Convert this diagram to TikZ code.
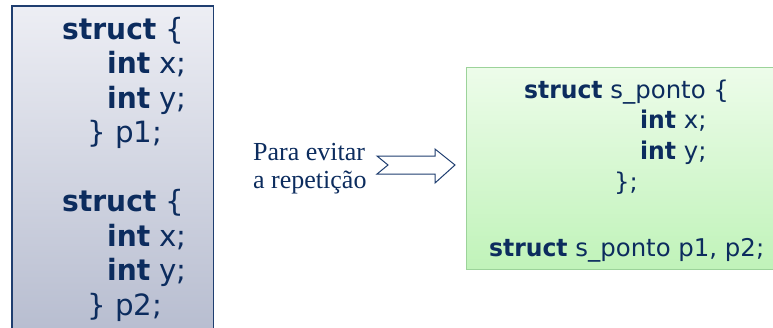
\documentclass[tikz,border=0pt]{standalone}
\usepackage{fontspec}
\setmainfont{DejaVu Sans}[BoldFeatures={FakeStretch=0.96}]
\newfontfamily\serifnote{Liberation Serif}
\definecolor{ink}{RGB}{12,44,94}
\definecolor{boxline}{RGB}{31,62,112}
\definecolor{lefttop}{RGB}{237,238,244}
\definecolor{leftbot}{RGB}{182,188,207}
\definecolor{greentop}{RGB}{237,252,234}
\definecolor{greenbot}{RGB}{192,243,185}
\definecolor{greenline}{RGB}{156,211,154}
\begin{document}
\begin{tikzpicture}[x=1bp,y=-1bp,
  lcode/.style={anchor=base west, inner sep=0pt, text=ink, font=\fontsize{29.3bp}{35bp}\selectfont},
  gcode/.style={anchor=base west, inner sep=0pt, text=ink, font=\fontsize{24.4bp}{30bp}\selectfont},
  note/.style={anchor=base west, inner sep=0pt, text=ink, font=\serifnote\fontsize{26bp}{28bp}\selectfont},
  blockarrow/.style={draw=boxline, fill=white, line width=1bp, line join=miter}]
\clip (0,0) rectangle (773,327);
% left box
\draw[line width=1.6bp, draw=boxline, top color=lefttop, bottom color=leftbot]
  (12,6) rectangle (213.5,340);
\node[lcode] (l1) at (62,39) {\textbf{struct} \{};
\node[lcode] (l2) at (107,73.5) {\textbf{int} x;};
\node[lcode] (l3) at (107,108) {\textbf{int} y;};
\node[lcode] (l4) at (87,142.5) {\} p1;};
\node[lcode] (l5) at (62,211.5) {\textbf{struct} \{};
\node[lcode] (l6) at (107,246) {\textbf{int} x;};
\node[lcode] (l7) at (107,280.5) {\textbf{int} y;};
\node[lcode] (l8) at (87,315) {\} p2;};
% right box
\draw[line width=1bp, draw=greenline, top color=greentop, bottom color=greenbot]
  (466.5,67.5) rectangle (790,269.5);
\node[gcode] (g1) at (524,98) {\textbf{struct} s\_ponto \{};
\node[gcode] (g2) at (640,128.5) {\textbf{int} x;};
\node[gcode] (g3) at (640,159.5) {\textbf{int} y;};
\node[gcode] (g4) at (614,190) {\};};
\node[gcode] (g5) at (489,256.5) {\textbf{struct} s\_ponto p1, p2;};
% middle note
\node[note] (n1) at (253,160.7) {Para evitar};
\node[note] (n2) at (253,188.3) {a repetição};
% block arrow
\draw[blockarrow] (377,156) -- (435,156) -- (435,149) -- (455,165) -- (435,183)
  -- (435,174) -- (377,174) -- (388,165) -- cycle;
\end{tikzpicture}
\end{document}
